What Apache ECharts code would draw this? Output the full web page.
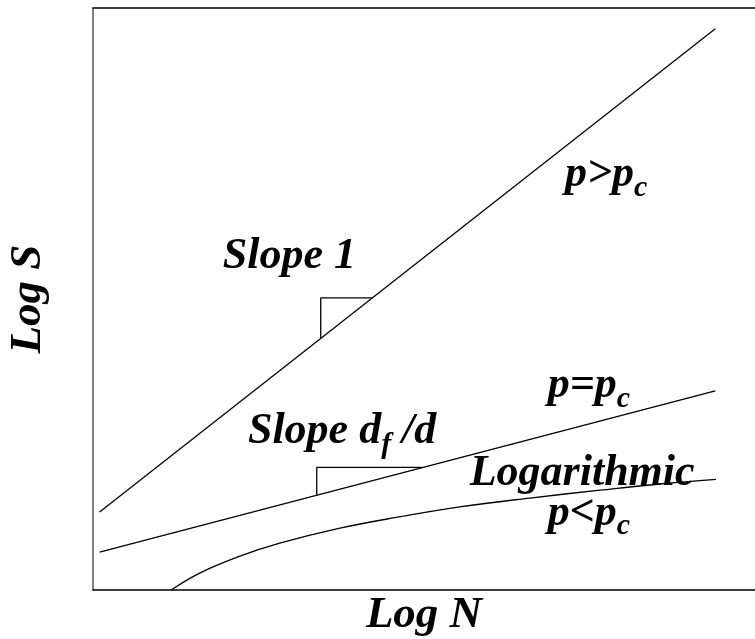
<!DOCTYPE html>
<html>
<head>
<meta charset="utf-8">
<script src="https://cdn.jsdelivr.net/npm/echarts@6/dist/echarts.min.js"></script>
<style>
  html, body { margin: 0; padding: 0; background: #fff; }
  #chart { width: 755px; height: 639px; }
</style>
</head>
<body>
<div id="chart"></div>
<script>
// schematic units: x = log N, y = log S
const steepX = [0.1, 9.4];
const steepY = [1.5, 10.8];
const critX = [0.1, 9.4];
const critY = [0.73, 3.83];
const subX = [1.18, 1.62, 2.22, 2.82, 3.73, 4.64, 5.54, 6.60, 7.66, 8.56, 9.41];
const subY = [0, 0.33, 0.65, 0.90, 1.19, 1.41, 1.60, 1.77, 1.92, 2.04, 2.13];
// slope triangles
const tri1X = [3.44, 3.44, 4.22];
const tri1Y = [4.84, 5.62, 5.62];
const tri2X = [3.38, 3.38, 4.97];
const tri2Y = [1.82, 2.36, 2.36];

// annotation text, anchored at left / baseline in data units
const noteText = ['{m|Slope 1}', '{m|Slope d}{s|f}{m| /d}', '{m|p>p}{s|c}', '{m|p=p}{s|c}', '{m|Logarithmic}', '{m|p<p}{s|c}'];
const noteX = [1.96, 2.34, 7.13, 6.87, 5.69, 6.87];
const noteY = [6.12, 2.75, 7.70, 3.64, 1.96, 1.19];

const font = "'Liberation Serif', 'Times New Roman', serif";
const zip = (xs, ys) => xs.map((x, i) => [x, ys[i]]);

const chart = echarts.init(document.getElementById('chart'));

const lineStyle = { color: '#000', width: 1.3 };
function lineSeries(data, smooth) {
  return {
    type: 'line',
    data: data,
    smooth: smooth || false,
    symbol: 'none',
    lineStyle: lineStyle,
    silent: true,
    animation: false
  };
}

const nameStyle = {
  fontFamily: font, fontSize: 45, fontWeight: 'bold', fontStyle: 'italic', color: '#000'
};

chart.setOption({
  animation: false,
  grid: { left: 93, top: 8, right: 0, bottom: 49, outerBoundsMode: 'none', containLabel: false },
  xAxis: [
    {
      type: 'value', min: 0, max: 10,
      name: 'Log N', nameLocation: 'middle', nameGap: 3,
      nameTextStyle: nameStyle,
      axisLine: { show: true, lineStyle: { color: '#000', width: 1.5 } },
      axisTick: { show: false }, axisLabel: { show: false }, splitLine: { show: false }
    },
    {
      type: 'value', min: 0, max: 10, position: 'top',
      axisLine: { show: true, lineStyle: { color: '#000', width: 1.5 } },
      axisTick: { show: false }, axisLabel: { show: false }, splitLine: { show: false }
    }
  ],
  yAxis: {
    type: 'value', min: 0, max: 11.2,
    name: 'Log S', nameLocation: 'middle', nameGap: 42, nameRotate: 90,
    nameTextStyle: nameStyle,
    axisLine: { show: true, lineStyle: { color: '#555', width: 1.5 } },
    axisTick: { show: false }, axisLabel: { show: false }, splitLine: { show: false }
  },
  series: [
    lineSeries(zip(steepX, steepY)),
    lineSeries(zip(critX, critY)),
    lineSeries(zip(subX, subY), 0.4),
    lineSeries(zip(tri1X, tri1Y)),
    lineSeries(zip(tri2X, tri2Y))
  ]
});

const rich = {
  m: { fontFamily: font, fontSize: 44, lineHeight: 56, fontWeight: 'bold', fontStyle: 'italic', color: '#000' },
  s: { fontFamily: font, fontSize: 30, lineHeight: 13, verticalAlign: 'bottom', fontWeight: 'bold', fontStyle: 'italic', color: '#000' }
};

chart.setOption({
  graphic: noteText.map((t, i) => {
    const p = chart.convertToPixel({ gridIndex: 0 }, [noteX[i], noteY[i]]);
    return {
      type: 'text',
      x: p[0],
      y: p[1] + 13,
      silent: true,
      style: { text: t, rich: rich, align: 'left', verticalAlign: 'bottom' }
    };
  })
});
</script>
</body>
</html>
